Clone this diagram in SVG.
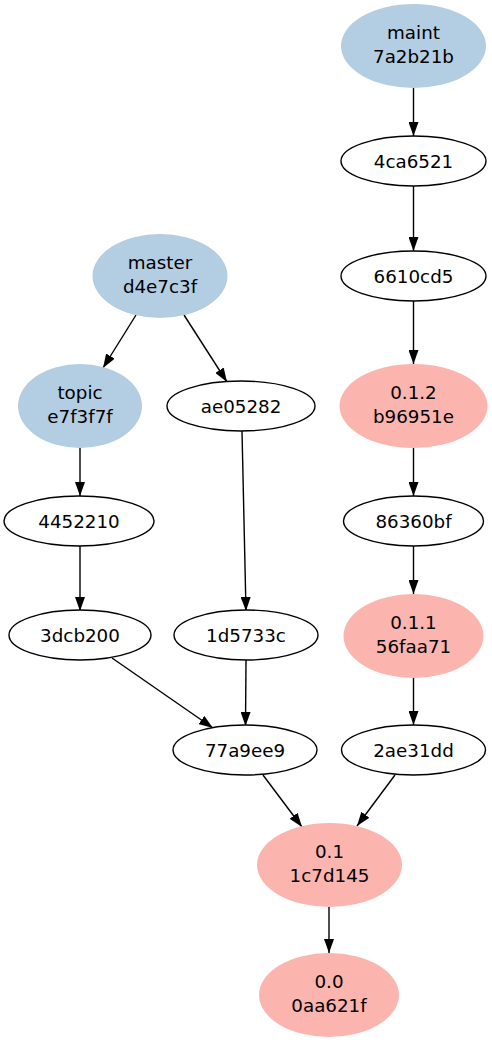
<svg xmlns="http://www.w3.org/2000/svg" width="492" height="1043" viewBox="0 0 492 1043">
<defs>
<marker id="ah" markerUnits="userSpaceOnUse" markerWidth="14" markerHeight="10" refX="14" refY="5" orient="auto">
<path d="M0,0 L14,5 L0,10 z" fill="#000"/>
</marker>
<style>
text{font-family:"DejaVu Sans","Liberation Sans",sans-serif;font-size:18.3px;fill:#000;text-anchor:middle}
.plain{fill:#fff;stroke:#000;stroke-width:1.4}
.br{fill:#b3cde3;stroke:none}
.tag{fill:#fbb4ae;stroke:none}
.e{stroke:#000;stroke-width:1.4;fill:none;marker-end:url(#ah)}
</style>
</defs>
<rect width="492" height="1043" fill="#fff"/>
<g id="connectors">
<line class="e" x1="413.5" y1="88" x2="413.5" y2="136"/>
<line class="e" x1="413.5" y1="186" x2="413.5" y2="251"/>
<line class="e" x1="413.5" y1="301" x2="413.5" y2="364"/>
<line class="e" x1="413.5" y1="448" x2="413.5" y2="496"/>
<line class="e" x1="413.5" y1="546" x2="413.5" y2="594"/>
<line class="e" x1="413.5" y1="678" x2="413.5" y2="725"/>
<line class="e" x1="395" y1="775" x2="357" y2="826"/>
<line class="e" x1="263" y1="775" x2="302" y2="827"/>
<line class="e" x1="329" y1="907" x2="329" y2="953"/>
<line class="e" x1="136" y1="315" x2="103" y2="368"/>
<line class="e" x1="184" y1="315" x2="227" y2="382"/>
<line class="e" x1="80" y1="448" x2="80" y2="496"/>
<line class="e" x1="80" y1="546" x2="80" y2="611"/>
<line class="e" x1="242" y1="431" x2="246" y2="611"/>
<line class="e" x1="112" y1="658" x2="213" y2="728"/>
<line class="e" x1="246" y1="660" x2="245.5" y2="726"/>
</g>
<g id="maint"><ellipse class="br" cx="413.5" cy="46" rx="72.5" ry="42"/><text x="413.5" y="39">maint</text><text x="413.5" y="63">7a2b21b</text></g>
<g id="n4ca6521"><ellipse class="plain" cx="413.5" cy="161" rx="72.5" ry="25"/><text x="413.5" y="167.5">4ca6521</text></g>
<g id="n6610cd5"><ellipse class="plain" cx="413.5" cy="276" rx="72.5" ry="25"/><text x="413.5" y="282.5">6610cd5</text></g>
<g id="t012"><ellipse class="tag" cx="413.5" cy="406" rx="74" ry="42"/><text x="413.5" y="399">0.1.2</text><text x="413.5" y="423">b96951e</text></g>
<g id="n86360bf"><ellipse class="plain" cx="413.5" cy="521" rx="70" ry="25"/><text x="413.5" y="527.5">86360bf</text></g>
<g id="t011"><ellipse class="tag" cx="413.5" cy="636" rx="70" ry="42"/><text x="413.5" y="629">0.1.1</text><text x="413.5" y="653">56faa71</text></g>
<g id="n2ae31dd"><ellipse class="plain" cx="413.5" cy="750" rx="72" ry="25"/><text x="413.5" y="756.5">2ae31dd</text></g>
<g id="master"><ellipse class="br" cx="160" cy="276" rx="67.5" ry="42"/><text x="160" y="269">master</text><text x="160" y="293">d4e7c3f</text></g>
<g id="topic"><ellipse class="br" cx="80" cy="406" rx="62" ry="42"/><text x="80" y="399">topic</text><text x="80" y="423">e7f3f7f</text></g>
<g id="nae05282"><ellipse class="plain" cx="241" cy="406" rx="74" ry="25"/><text x="241" y="412.5">ae05282</text></g>
<g id="n4452210"><ellipse class="plain" cx="79" cy="521" rx="75" ry="25"/><text x="79" y="527.5">4452210</text></g>
<g id="n3dcb200"><ellipse class="plain" cx="80" cy="635" rx="71" ry="25"/><text x="80" y="641.5">3dcb200</text></g>
<g id="n1d5733c"><ellipse class="plain" cx="246" cy="635" rx="72" ry="25"/><text x="246" y="641.5">1d5733c</text></g>
<g id="n77a9ee9"><ellipse class="plain" cx="245" cy="750" rx="72" ry="25"/><text x="245" y="756.5">77a9ee9</text></g>
<g id="t01"><ellipse class="tag" cx="329.5" cy="865" rx="72.5" ry="42"/><text x="329.5" y="858">0.1</text><text x="329.5" y="882">1c7d145</text></g>
<g id="t00"><ellipse class="tag" cx="329" cy="995" rx="70" ry="42"/><text x="329" y="988">0.0</text><text x="329" y="1012">0aa621f</text></g>
</svg>
